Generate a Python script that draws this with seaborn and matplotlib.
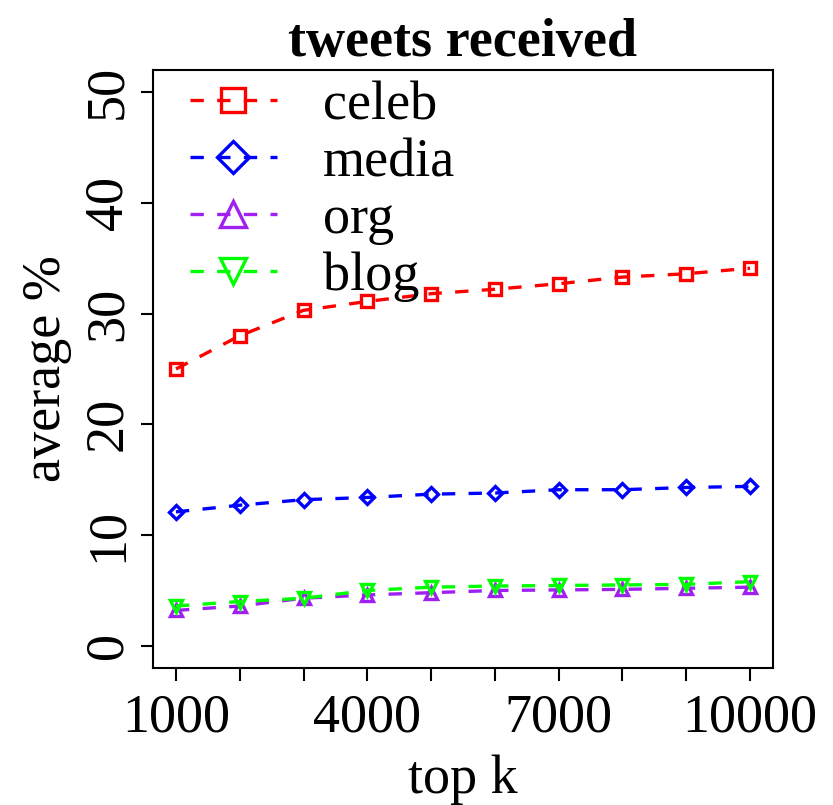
import matplotlib
matplotlib.use("Agg")
import matplotlib.pyplot as plt
from matplotlib.lines import Line2D
import seaborn as sns
import pandas as pd

top_k = [1000, 2000, 3000, 4000, 5000, 6000, 7000, 8000, 9000, 10000]
celeb = [25.0, 28.0, 30.3, 31.1, 31.8, 32.2, 32.7, 33.3, 33.6, 34.1]
media = [12.1, 12.7, 13.2, 13.4, 13.7, 13.8, 14.1, 14.1, 14.3, 14.4]
org = [3.2, 3.6, 4.3, 4.6, 4.8, 5.0, 5.05, 5.1, 5.2, 5.3]
blog = [3.6, 4.0, 4.3, 5.0, 5.3, 5.4, 5.45, 5.5, 5.55, 5.8]

series_names = ["celeb", "media", "org", "blog"]
series_vals = [celeb, media, org, blog]
colors = ["#FF0000", "#0000FF", "#A020F0", "#00FF00"]
markers = ["s", "D", "^", "v"]
msizes = [8, 7.5, 9, 9]
leg_msizes = [17, 16, 19, 19]

xticks = [1000, 2000, 3000, 4000, 5000, 6000, 7000, 8000, 9000, 10000]
xticklabels = ["1000", "", "", "4000", "", "", "7000", "", "", "10000"]
yticks = [0, 10, 20, 30, 40, 50]

sns.set_style("ticks")
plt.rcParams["font.family"] = ["Liberation Serif", "DejaVu Serif"]
plt.rcParams["text.color"] = "black"
plt.rcParams["axes.labelcolor"] = "black"
plt.rcParams["xtick.color"] = "black"
plt.rcParams["ytick.color"] = "black"

FS = 39

fig = plt.figure(figsize=(8.33, 8.05), dpi=100)
ax = fig.add_axes([153/833, 1 - 668/805, (773-153)/833, (668-70)/805])

dash = (0, (4, 4))
for name, vals, c, m, ms in zip(series_names, series_vals, colors, markers, msizes):
    df = pd.DataFrame({"k": top_k, "v": vals})
    sns.lineplot(data=df, x="k", y="v", ax=ax, color=c, marker=m, markersize=ms,
                 markerfacecolor="none", markeredgecolor=c, markeredgewidth=2.4,
                 linestyle=dash, linewidth=2.4, legend=False)

ax.set_xlim(640, 10360)
ax.set_ylim(-2, 52)
ax.set_xticks(xticks)
ax.set_xticklabels(xticklabels)
ax.set_yticks(yticks)
ax.set_yticklabels([str(t) for t in yticks], rotation=90, va="center")
ax.tick_params(axis="both", labelsize=FS, length=9, width=1.5, colors="black",
               labelcolor="black", pad=5)
ax.tick_params(axis="x", pad=9)
for s in ax.spines.values():
    s.set_visible(True)
    s.set_linewidth(1.5)
    s.set_color("black")

ax.set_xlabel("top k", fontsize=FS, labelpad=8, color="black")
ax.set_ylabel("average %", fontsize=FS, labelpad=8, color="black")
ax.set_title("tweets received", fontsize=FS, fontweight="bold", pad=10, color="black")

handles = [Line2D([0], [0], color=c, marker=m, markersize=ms, markerfacecolor="none",
                  markeredgecolor=c, markeredgewidth=2.4, linestyle=dash, linewidth=2.4)
           for c, m, ms in zip(colors, markers, leg_msizes)]
ax.legend(handles, series_names, loc="upper left", frameon=False, fontsize=FS,
          handlelength=1.6, handletextpad=0.85, labelspacing=0.12, borderpad=0.2,
          borderaxespad=0.0, bbox_to_anchor=(0.042, 1.0), labelcolor="black")

fig.savefig("out.png", dpi=100)
